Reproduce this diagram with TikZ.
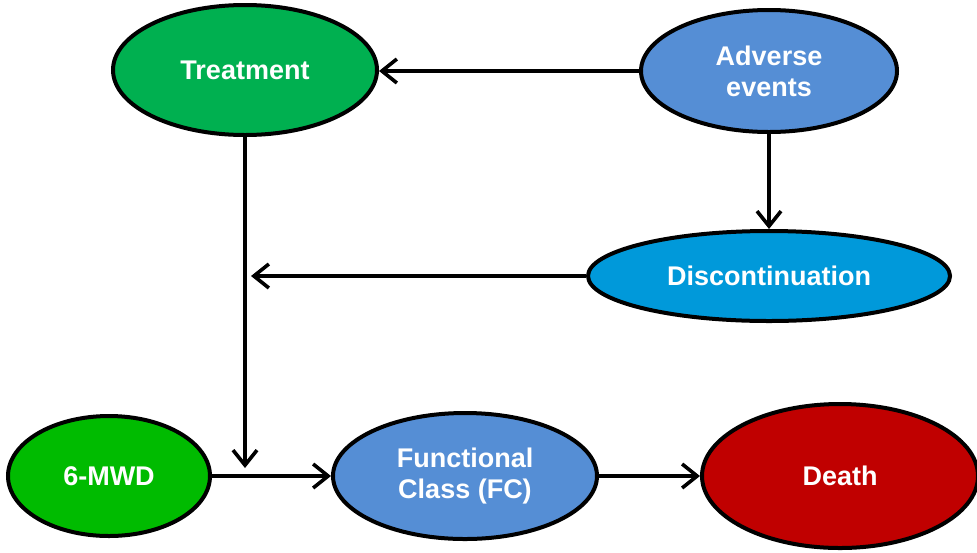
\documentclass[tikz,border=0pt]{standalone}
\usepackage{fontspec}
\setmainfont{Liberation Sans}
\usepackage{tikz}
\usetikzlibrary{shapes.geometric, arrows.meta, positioning}
\definecolor{treatgreen}{HTML}{00B050}
\definecolor{mwdgreen}{HTML}{00BB00}
\definecolor{aeblue}{HTML}{558ED5}
\definecolor{discblue}{HTML}{0099DA}
\definecolor{deathred}{HTML}{C00000}
\tikzset{bubble/.style={ellipse, draw=black, line width=2pt, inner sep=0pt, text=white, align=center, font=\fontsize{13.5}{15.5}\selectfont\bfseries}, conn/.style={line width=1.8pt, -{Straight Barb[length=7.5pt, width=12pt, line width=1.8pt]}}}

\begin{document}
\begin{tikzpicture}[x=0.5pt, y=-0.5pt]
                      \useasboundingbox (0,0) rectangle (977,552);
                      \node[bubble, fill=treatgreen, minimum width=132pt, minimum height=65pt] (treat) at (245,70) {Treatment};
                      \node[bubble, fill=aeblue, minimum width=128pt, minimum height=61pt] (adverse) at (769,71) {Adverse\\events};
                      \node[bubble, fill=discblue, minimum width=181pt, minimum height=45pt] (disc) at (769,276) {Discontinuation};
                      \node[bubble, fill=mwdgreen, minimum width=101pt, minimum height=60pt] (mwd) at (109,476) {6-MWD};
                      \node[bubble, fill=aeblue, minimum width=132pt, minimum height=63pt] (fc) at (465,476) {Functional\\Class (FC)};
                      \node[bubble, fill=deathred, minimum width=138pt, minimum height=72pt] (death) at (840,476) {Death};
                      
                      \coordinate (stop) at (251,276);
                      \coordinate (join) at (245,468);
                      
                      \draw[conn] (adverse.west) -- (adverse.west -| treat.east);
                      \draw[conn] (adverse.south) -- (adverse.south |- disc.north);
                      \draw[conn] (disc.west) -- (stop);
                      \draw[conn] (treat.south) -- (join);
                      \draw[conn] (mwd.east) -- (fc.west);
                      \draw[conn] (fc.east) -- (death.west);
             \end{tikzpicture}
\end{document}
